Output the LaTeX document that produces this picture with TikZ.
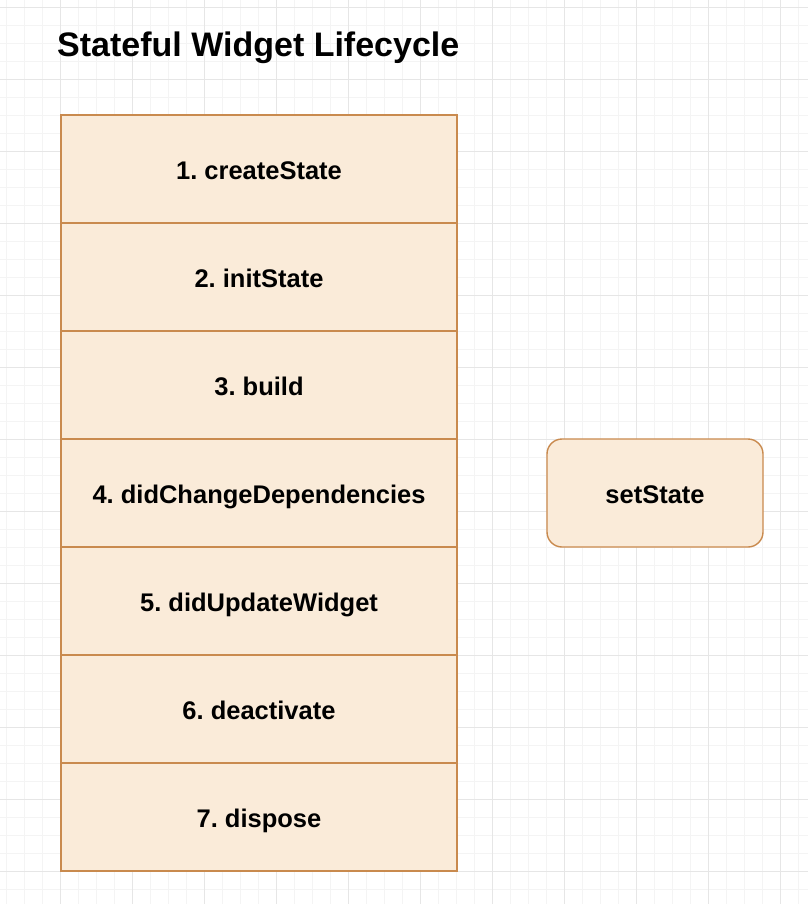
\documentclass[tikz,border=0pt]{standalone}
\usepackage{fontspec}
\setmainfont{Liberation Sans}
\frenchspacing
\definecolor{boxfill}{HTML}{FAEBD9}
\definecolor{boxline}{HTML}{C98A4E}
\definecolor{gridminor}{HTML}{F4F4F4}
\definecolor{gridmajor}{HTML}{E6E6E6}
\begin{document}
\begin{tikzpicture}[x=1pt,y=-1pt,
  stage/.style={draw=boxline, fill=boxfill, line width=1.4pt, minimum width=396pt, minimum height=108pt, inner sep=0pt, text height=20pt, text depth=0pt, font=\fontsize{25.5}{30}\selectfont\bfseries\frenchspacing},
  pill/.style={draw=boxline, fill=boxfill, line width=1.4pt, rounded corners=15pt, minimum width=216pt, minimum height=108pt, inner sep=0pt, text height=20pt, text depth=0pt, font=\fontsize{25.5}{30}\selectfont\bfseries},
  titletext/.style={font=\fontsize{34}{40}\selectfont\bfseries, anchor=base west, inner sep=0pt}]
\useasboundingbox (0,0) rectangle (808,904);
\fill[white] (0,0) rectangle (808,904);
% grid
\foreach \x in {6,24,...,808} {\draw[gridminor, line width=0.8pt] (\x,0) -- (\x,904);}
\foreach \y in {7,25,...,904} {\draw[gridminor, line width=0.8pt] (0,\y) -- (808,\y);}
\foreach \x in {60,132,...,808} {\draw[gridmajor, line width=0.9pt] (\x,0) -- (\x,904);}
\foreach \y in {7,79,...,904} {\draw[gridmajor, line width=0.9pt] (0,\y) -- (808,\y);}
% title
\node[titletext] (title) at (57,57) {Stateful Widget Lifecycle};
% stages
\node[stage] (s1) at (259,169) {1. createState};
\node[stage] (s2) at (259,277) {2. initState};
\node[stage] (s3) at (259,385) {3. build};
\node[stage] (s4) at (259,493) {4. didChangeDependencies};
\node[stage] (s5) at (259,601) {5. didUpdateWidget};
\node[stage] (s6) at (259,709) {6. deactivate};
\node[stage] (s7) at (259,817) {7. dispose};
% setState
\node[pill] (set) at (655,493) {setState};
\end{tikzpicture}
\end{document}
